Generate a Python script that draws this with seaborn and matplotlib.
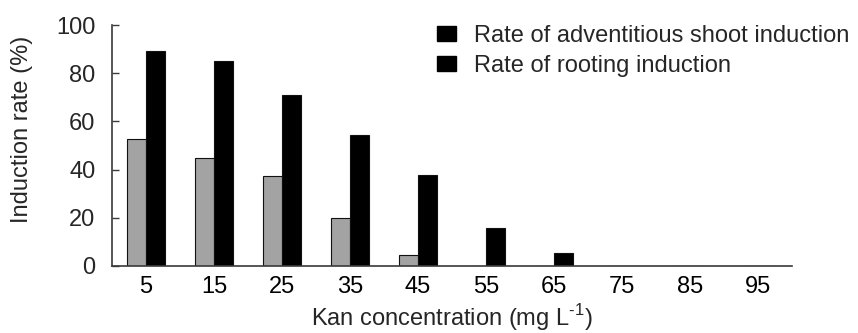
import numpy as np
import pandas as pd
import matplotlib
matplotlib.use('Agg')
import matplotlib.pyplot as plt
import seaborn as sns
from matplotlib.patches import Rectangle

# Données
concentrations = ['5', '15', '25', '35', '45', '55', '65', '75', '85', '95']
shoot_rate = [52.7, 45.0, 37.4, 20.0, 4.6, 0, 0, 0, 0, 0]
rooting_rate = [89.2, 85.1, 71.1, 54.4, 37.8, 15.8, 5.6, 0, 0, 0]
series_names = ['Rate of adventitious shoot induction', 'Rate of rooting induction']
y_ticks = [0, 20, 40, 60, 80, 100]

df = pd.DataFrame({
    'conc': concentrations * 2,
    'rate': shoot_rate + rooting_rate,
    'serie': [series_names[0]] * len(concentrations) + [series_names[1]] * len(concentrations),
})

sns.set_style('white')
plt.rcParams['font.family'] = ['Liberation Sans', 'DejaVu Sans']
plt.rcParams['mathtext.fontset'] = 'custom'
plt.rcParams['mathtext.rm'] = 'Liberation Sans'
fs = 17
axis_col = '#3a3a3a'

fig = plt.figure(figsize=(8.58, 3.33), dpi=100)
ax = fig.add_axes([112 / 858, 1 - 266 / 333, 680 / 858, 241 / 333])

sns.barplot(data=df, x='conc', y='rate', hue='serie', order=concentrations,
            hue_order=series_names, palette=['#a3a3a3', '#000000'],
            width=0.57, edgecolor='#111111', linewidth=0.8, errorbar=None,
            ax=ax, legend=False)

ax.set_xlim(-0.5, 9.5)
ax.set_ylim(0, 100)
ax.set_yticks(y_ticks)
ax.set_xticks(range(len(concentrations)))
ax.set_xticklabels(concentrations)
ax.set_xticks(np.arange(0.5, 10, 1), minor=True)

ax.tick_params(axis='x', which='major', length=0, labelsize=fs, pad=7, colors='black')
ax.tick_params(axis='x', which='minor', direction='in', length=5, width=1, color=axis_col)
ax.tick_params(axis='y', direction='in', length=5, width=1, color=axis_col,
               labelsize=fs, pad=12, left=True)

for s in ['top', 'right']:
    ax.spines[s].set_visible(False)
for s in ['left', 'bottom']:
    ax.spines[s].set_color(axis_col)
    ax.spines[s].set_linewidth(1.2)

ax.set_xlabel(r'Kan concentration (mg L$^{\mathrm{\text{-1}}}$)', fontsize=fs, labelpad=3)
ax.set_ylabel('Induction rate (%)', fontsize=fs)
ax.yaxis.set_label_coords(-0.116, 0.565)

# Légende : les deux carrés sont noirs dans la figure d'origine
handles = [Rectangle((0, 0), 1, 1, facecolor='black', edgecolor='black') for _ in series_names]
fig.legend(handles, series_names, loc='upper left', bbox_to_anchor=(437 / 858, 1 - 25 / 333),
           frameon=False, fontsize=fs, borderpad=0, borderaxespad=0,
           handlelength=0.82, handleheight=0.6, handletextpad=0.75, labelspacing=0.35)

fig.savefig('out.png', dpi=100)
